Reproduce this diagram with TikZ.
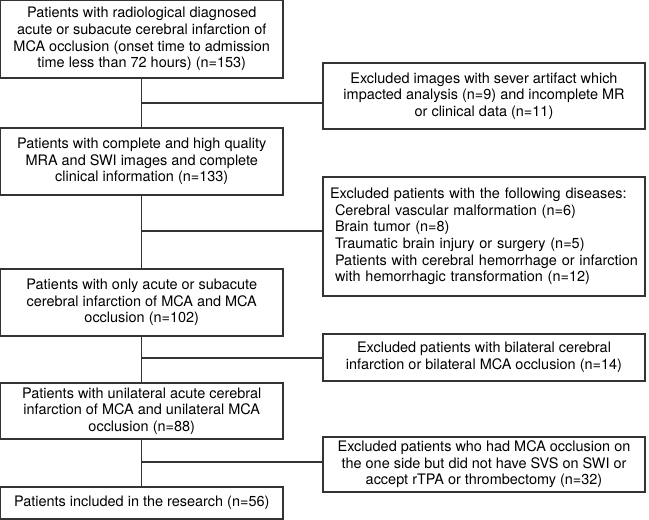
\documentclass[tikz,border=0pt]{standalone}
\usepackage{fontspec}
\setmainfont{TeX Gyre Heros}
\newdimen\pxu
\pxu=0.75pt

\tikzset{
    flowbox/.style={draw=black!80, line width=0.8pt, rectangle, inner sep=0pt,
        align=center, font=\fontsize{10.85}{12.5}\selectfont},
    leftbox/.style={flowbox, minimum width=282.5\pxu},
    rightbox/.style={flowbox, minimum width=322\pxu},
    flowline/.style={draw=black!80, line width=0.8pt}
}

\begin{document}
\begin{tikzpicture}[x=0.75pt, y=-0.75pt]
        % Fix the page to the size of the picture
        \useasboundingbox (0,0) rectangle (649,520);

        % Main column of patients
        \node[leftbox, minimum height=77.5\pxu] (screen) at (141.75,39.25)
            {Patients with radiological diagnosed\\acute or subacute cerebral infarction of\\MCA occlusion (onset time to admission\\time less than 72 hours) (n=153)};
        \node[leftbox, minimum height=67\pxu] (quality) at (141.75,161.5)
            {Patients with complete and high quality\\MRA and SWI images and complete\\clinical information (n=133)};
        \node[leftbox, minimum height=67\pxu] (acute) at (141.75,302.5)
            {Patients with only acute or subacute\\cerebral infarction of MCA and MCA\\occlusion (n=102)};
        \node[leftbox, minimum height=56\pxu] (unilat) at (141.75,411)
            {Patients with unilateral acute cerebral\\infarction of MCA and unilateral MCA\\occlusion (n=88)};
        \node[leftbox, minimum height=32\pxu] (final) at (141.75,503)
            {Patients included in the research (n=56)};

        % Excluded boxes on the right
        \node[rightbox, minimum height=66\pxu] (artifact) at (484,96)
            {Excluded images with sever artifact which\\impacted analysis (n=9) and incomplete MR\\or clinical data (n=11)};
        \node[rightbox, minimum height=119\pxu, text width=308\pxu, inner xsep=7\pxu, align=left] (disease) at (484,236.5)
            {Excluded patients with the following diseases:\\
             \hspace*{5\pxu}Cerebral vascular malformation (n=6)\\
             \hspace*{5\pxu}Brain tumor (n=8)\\
             \hspace*{5\pxu}Traumatic brain injury or surgery (n=5)\\
             \hspace*{5\pxu}Patients with cerebral hemorrhage or infarction\\
             \hspace*{5\pxu}with hemorrhagic transformation (n=12)};
        \node[rightbox, minimum height=47\pxu] (bilat) at (484,357.5)
            {Excluded patients with bilateral cerebral\\infarction or bilateral MCA occlusion (n=14)};
        \node[rightbox, minimum height=55\pxu] (nosvs) at (484,464.5)
            {Excluded patients who had MCA occlusion on\\the one side but did not have SVS on SWI or\\accept rTPA or thrombectomy (n=32)};

        % Split points on the main line
        \coordinate (split1) at (142,103);
        \coordinate (split2) at (142,231);
        \coordinate (split3) at (142,358);
        \coordinate (split4) at (142,462);

        % Vertical lines between the boxes
        \draw[flowline] (screen) -- (quality);
        \draw[flowline] (quality) -- (acute);
        \draw[flowline] (acute) -- (unilat);
        \draw[flowline] (unilat) -- (final);

        % Horizontal lines to the excluded boxes
        \draw[flowline] (split1) -- (split1 -| artifact.west);
        \draw[flowline] (split2) -- (split2 -| disease.west);
        \draw[flowline] (split3) -- (split3 -| bilat.west);
        \draw[flowline] (split4) -- (split4 -| nosvs.west);
    \end{tikzpicture}
\end{document}
